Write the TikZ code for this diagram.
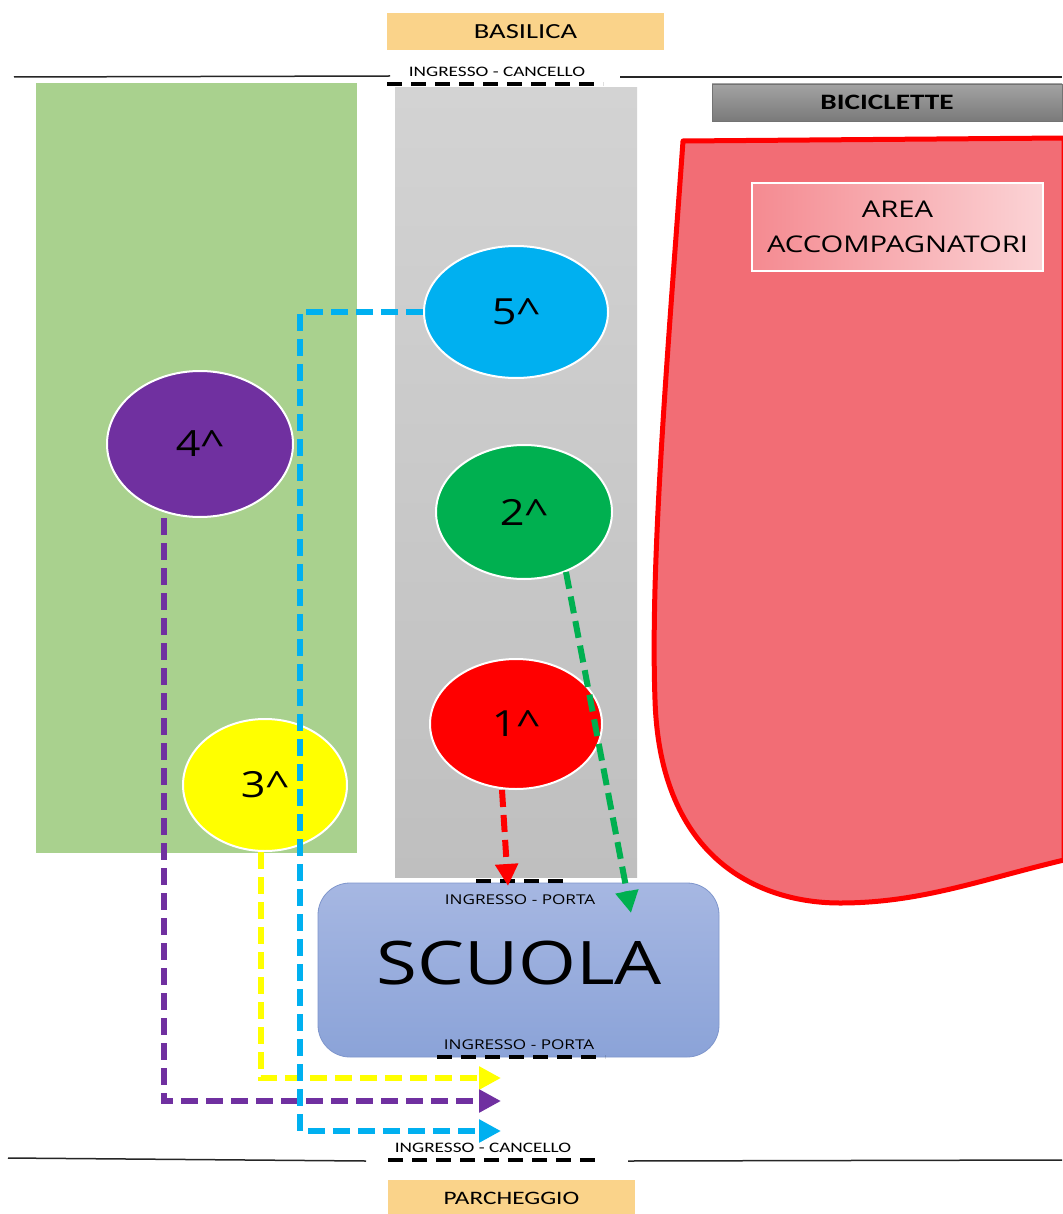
\documentclass[tikz,border=0pt]{standalone}
\usepackage{fontspec}
\setmainfont{Carlito}
\newfontfamily\osans{Open Sans}
\usetikzlibrary{arrows.meta,shapes.geometric}
\definecolor{greenarea}{HTML}{A9D18E}
\definecolor{redarea}{HTML}{F26D75}
\definecolor{cblue}{HTML}{00B0F0}
\definecolor{cpurple}{HTML}{7030A0}
\definecolor{cgreen}{HTML}{00B050}
\definecolor{cred}{HTML}{FF0000}
\definecolor{cyellow}{HTML}{FFFF00}
\definecolor{orangebox}{HTML}{FAD38A}
\definecolor{schooltop}{HTML}{A6B7E2}
\definecolor{schoolbot}{HTML}{8BA3D8}
\definecolor{schoolline}{HTML}{7F96CC}
\definecolor{graytop}{HTML}{D3D3D3}
\definecolor{graybot}{HTML}{BFBFBF}
\definecolor{bicitop}{HTML}{A3A3A3}
\definecolor{bicibot}{HTML}{7A7A7A}
\newcommand\wc[1]{\scalebox{1.33}[1]{#1}}
\newcommand\wo[1]{\scalebox{1.27}[1]{#1}}
\tikzset{
  spot/.style={ellipse, draw=white, line width=2pt, minimum width=#1, inner sep=0pt,
    font=\osans\fontsize{36}{40}\selectfont},
  label box/.style={inner sep=0pt},
  gate/.style={draw=black, line width=4.5pt, dash pattern=on 15pt off 9pt},
  route/.style={line width=6pt, dash pattern=on 17pt off 8pt, -{Triangle[length=22pt,width=22pt]}},
  wall/.style={draw=black!85, line width=1.5pt},
}
\newcommand\wl[1]{\scalebox{1.2}[1]{#1}}
\begin{document}
\begin{tikzpicture}[x=1pt,y=-1pt]
\useasboundingbox (0,0) rectangle (1062,1214);
\fill[white] (0,0) rectangle (1062,1214);
% areas
\fill[greenarea] (36,83) rectangle (357,853);
\shade[top color=graytop, bottom color=graybot] (395,88) rectangle (637,877);
\path[fill=redarea, draw=cred, line width=5pt, line join=round]
  (683,141) -- (1064,138) -- (1064,860)
  .. controls (980,880) and (920,903) .. (840,903)
  .. controls (760,903) and (660,860) .. (655,700)
  .. controls (650,560) and (668,350) .. (683,141) -- cycle;
% top
\node[label box, fill=orangebox, minimum width=277pt, minimum height=37pt, font=\fontsize{21.5}{24}\selectfont] (basilica) at (525.5,31.5) {\wc{BASILICA}};
\draw[wall] (14,77) -- (390,76);
\draw[wall] (620,77) -- (1062,77);
\node[font=\fontsize{14.5}{16}\selectfont] (topgate) at (497,72) {\wc{INGRESSO - CANCELLO}};
\draw[gate] (387,84) -- (603,84);
\node[label box, draw=black!55, top color=bicitop, bottom color=bicibot, minimum width=350pt, minimum height=37pt, font=\bfseries\fontsize{22}{24}\selectfont] (bici) at (887,102.5) {\wc{BICICLETTE}};
\node[label box, draw=white, line width=2pt, left color=redarea!80!white, right color=redarea!30!white, minimum width=291pt, minimum height=88pt, align=center, font=\osans\fontsize{23}{35}\selectfont] (area) at (897.5,227) {\wo{AREA}\\\wo{ACCOMPAGNATORI}};
% school
\node[label box, draw=schoolline, line width=0.8pt, rounded corners=32pt, top color=schooltop, bottom color=schoolbot, minimum width=401pt, minimum height=174pt] (scuola) at (518.5,970) {};
\node[font=\osans\fontsize{60}{64}\selectfont] (scuolatxt) at (519,963) {\scalebox{1.24}[1]{SCUOLA}};
\node[font=\osans\fontsize{13.5}{15}\selectfont] (porta1) at (520,900) {\wo{INGRESSO - PORTA}};
\node[font=\osans\fontsize{13.5}{15}\selectfont] (porta2) at (519,1045) {\wo{INGRESSO - PORTA}};
\draw[gate] (476,881) -- (566,881);
\draw[gate] (437,1057) -- (605,1057);
% spots
\node[spot=184pt, minimum height=132pt, fill=cblue] (s5) at (516,312) {\wl{5\^{}}};
\node[spot=186pt, minimum height=146pt, fill=cpurple] (s4) at (200,444) {\wl{4\^{}}};
\node[spot=176pt, minimum height=134pt, fill=cgreen] (s2) at (524,512) {\wl{2\^{}}};
\node[spot=172pt, minimum height=130pt, fill=cred] (s1) at (516,724) {\wl{1\^{}}};
\node[spot=164pt, minimum height=132pt, fill=cyellow] (s3) at (265,785) {\wl{3\^{}}};
% route ends
\coordinate (e1) at (508,886);
\coordinate (e2) at (631,913);
\coordinate (e3) at (501,1078);
\coordinate (e4) at (501,1101);
\coordinate (e5) at (501,1131);
% routes
\draw[route, cred] ([xshift=-14pt]s1.south) -- (e1);
\draw[route, cgreen] (s2.-55) -- (e2);
\draw[route, cyellow] (s3.south -| 261,0) -- (261,1078) -- (e3);
\draw[route, cpurple] (s4.south -| 164,0) -- (164,1101) -- (e4);
\draw[route, cblue] (s5.west) -- (300,312) -- (300,1131) -- (e5);
% bottom
\draw[wall] (8,1158) -- (366,1161);
\draw[wall] (628,1161) -- (1062,1160);
\node[font=\fontsize{14.5}{16}\selectfont] (botgate) at (483,1148) {\wc{INGRESSO - CANCELLO}};
\draw[gate] (388,1160) -- (603,1160);
\node[label box, fill=orangebox, minimum width=247pt, minimum height=36pt, font=\fontsize{19}{22}\selectfont] (parcheggio) at (511.5,1198) {\wc{PARCHEGGIO}};
\end{tikzpicture}
\end{document}
